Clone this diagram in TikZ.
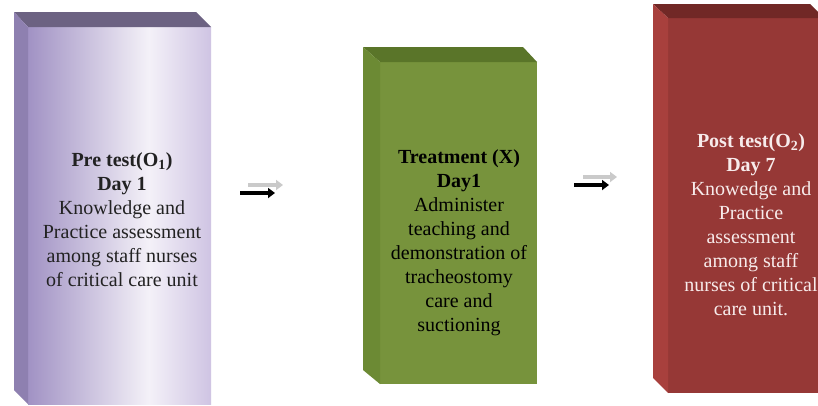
\documentclass[tikz,border=0pt]{standalone}
\usepackage{fontspec}
\setmainfont{Liberation Serif}
\usetikzlibrary{arrows.meta}
\definecolor{lavL}{HTML}{A192C4}
\definecolor{lavM}{HTML}{F4F1F8}
\definecolor{lavR}{HTML}{CFC4E3}
\definecolor{lavTop}{HTML}{6C6282}
\definecolor{lavSide}{HTML}{8E80B0}
\definecolor{grnFront}{HTML}{77933C}
\definecolor{grnTop}{HTML}{5A7529}
\definecolor{grnSide}{HTML}{6C8A34}
\definecolor{redFront}{HTML}{963836}
\definecolor{redTop}{HTML}{712826}
\definecolor{redSide}{HTML}{A8403D}
\definecolor{txtDark}{HTML}{222222}
\definecolor{txtLight}{HTML}{F7EBEB}
\definecolor{arrGray}{HTML}{CACACA}
\pgfdeclarehorizontalshading{lavshade}{100bp}{color(0bp)=(lavL); color(25bp)=(lavL); color(58bp)=(lavM); color(75bp)=(lavR); color(100bp)=(lavR)}
\tikzset{
  boxtext/.style={align=center, font=\fontsize{20}{24}\selectfont},
  blackarrow/.style={line width=4pt, black, -{Triangle[length=7pt,width=10pt]}},
  grayarrow/.style={line width=3.6pt, arrGray, -{Triangle[length=7pt,width=10pt]}},
}
\begin{document}
\begin{tikzpicture}[x=1pt,y=-1pt]
\fill[white] (0,0) rectangle (818,405);
\useasboundingbox (0,0) rectangle (818,405);
% Box 1 (lavender)
\shade[shading=lavshade] (28,27) rectangle (211,404);
\fill[lavTop] (14,12) -- (196,12) -- (211,27) -- (28,27) -- cycle;
\fill[lavSide] (14,12) -- (28,27) -- (28,404) -- (14,390) -- cycle;
\node[boxtext, text=txtDark] (pre) at (122,220)
  {\textbf{Pre test(O\textsubscript{1})}\\ \textbf{Day 1}\\ Knowledge and\\ Practice assessment\\ among staff nurses\\ of critical care unit};
% Box 2 (green)
\fill[grnFront] (380,62) rectangle (537,384);
\fill[grnTop] (363,47) -- (523,47) -- (537,62) -- (380,62) -- cycle;
\fill[grnSide] (363,47) -- (380,62) -- (380,384) -- (363,370) -- cycle;
\node[boxtext, text=black] (treat) at (459,243)
  {\textbf{Treatment (X)}\\ \textbf{Day1}\\ Administer\\ teaching and\\ demonstration of\\ tracheostomy\\ care and\\ suctioning};
% Box 3 (red)
\fill[redFront] (668,18) rectangle (818,393);
\fill[redTop] (653,4) -- (810,4) -- (818,12) -- (818,18) -- (668,18) -- cycle;
\fill[redSide] (653,4) -- (668,18) -- (668,393) -- (653,378) -- cycle;
\node[boxtext, text=txtLight] (post) at (751,225)
  {\textbf{Post test(O\textsubscript{2})}\\ \textbf{Day 7}\\ Knowedge and\\ Practice\\ assessment\\ among staff\\ nurses of critical\\ care unit.};
% Arrows
\coordinate (a1gs) at (248,185); \coordinate (a1ge) at (283,185);
\coordinate (a1bs) at (240,193); \coordinate (a1be) at (275,193);
\coordinate (a2gs) at (583,177); \coordinate (a2ge) at (617,177);
\coordinate (a2bs) at (574,185); \coordinate (a2be) at (609,185);
\draw[grayarrow] (a1gs) -- (a1ge);
\draw[blackarrow] (a1bs) -- (a1be);
\draw[grayarrow] (a2gs) -- (a2ge);
\draw[blackarrow] (a2bs) -- (a2be);
\end{tikzpicture}
\end{document}
